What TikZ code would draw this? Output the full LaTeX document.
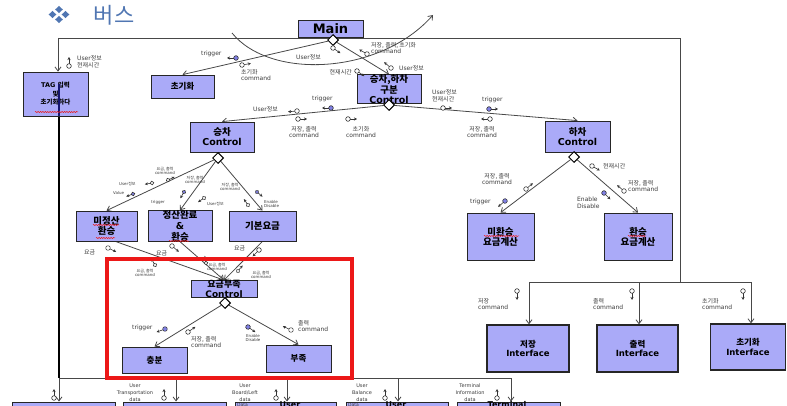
\documentclass[tikz,border=0pt]{standalone}
\usepackage{fontspec}
\setmainfont{DejaVu Sans}
\newfontfamily\hangul{Noto Sans CJK KR}
\usetikzlibrary{arrows.meta,shapes.geometric,calc,decorations.pathmorphing}
\pgfdeclarelayer{bg}
\pgfsetlayers{bg,main}

\definecolor{boxfill}{RGB}{170,170,248}
\definecolor{flagfill}{RGB}{128,128,228}
\definecolor{edgegray}{RGB}{72,72,72}
\definecolor{labelgray}{RGB}{60,60,60}
\definecolor{alertred}{RGB}{236,24,24}
\definecolor{titleblue}{RGB}{80,118,178}
\definecolor{navyline}{RGB}{20,20,110}

\tikzset{
  module/.style={draw=black!85, line width=0.8pt, fill=boxfill, align=center,
    inner sep=0pt, font=\bfseries\fontsize{9.5}{10}\selectfont},
  iface/.style={module, line width=1.3pt, font=\bfseries\fontsize{8.5}{9.5}\selectfont},
  decision/.style={diamond, draw=black, fill=white, line width=1pt,
    minimum width=11pt, minimum height=11pt, inner sep=0pt},
  conn/.style={draw=edgegray, line width=0.8pt},
  call/.style={conn, -{Straight Barb[length=4pt,width=6pt]}},
  flowline/.style={line width=0.6pt, draw=black!80, -{Stealth[length=3pt,width=3pt]}},
  lbl/.style={font=\fontsize{6}{6.8}\selectfont, text=labelgray, align=left, inner sep=0pt},
  tinylbl/.style={font=\fontsize{4}{4.6}\selectfont, text=labelgray, align=left, inner sep=0pt},
  datalbl/.style={font=\fontsize{5}{7}\selectfont, text=labelgray, align=center, inner sep=0pt},
  dflow/.pic={\draw[flowline] (0,0) -- (9,0);
    \draw[line width=0.6pt, draw=black!80, fill=white] (0,0) circle (2.3);},
  cflow/.pic={\draw[flowline] (0,0) -- (9,0);
    \draw[line width=0.6pt, draw=black!80, fill=flagfill] (0,0) circle (2.3);},
  squiggle/.style={draw=alertred, line width=0.5pt, decorate,
    decoration={snake, amplitude=0.6pt, segment length=2.4pt}},
  cut/.style={font=\bfseries\fontsize{8}{8}\selectfont, anchor=base, inner sep=0pt},
}

\begin{document}
\begin{tikzpicture}[x=1pt,y=-1pt]
\useasboundingbox (0,0) rectangle (787,406);
\clip (0,0) rectangle (787,406);

% heading
\foreach \dx/\dy in {0/-5, 0/5, -6.5/0, 6.5/0}
  \fill[titleblue] (59+\dx,14.5+\dy) ++(0,-3.6) -- ++(3.8,3.6) -- ++(-3.8,3.6) -- ++(-3.8,-3.6) -- cycle;
\node[font=\fontsize{22}{22}\selectfont, text=titleblue, inner sep=0pt] (title) at (114,15) {\hangul 버스};

% modules
\node[module, minimum width=65pt, minimum height=17pt, font=\bfseries\fontsize{13}{13}\selectfont] (main) at (330.5,28.5) {Main};
\node[module, minimum width=65pt, minimum height=44pt, font=\bfseries\fontsize{6.5}{8.5}\selectfont] (tag) at (55.5,94) {TAG {\hangul 입력}\\{\hangul 및}\\{\hangul 초기화하다}};
\node[module, minimum width=63pt, minimum height=23pt, font=\bfseries\fontsize{8.5}{9}\selectfont] (init) at (182.5,86.5) {\hangul 초기화};
\node[module, minimum width=64pt, minimum height=24pt, font=\bfseries\fontsize{9.5}{9.5}\selectfont] (split) at (389,89) {{\hangul 승차,하차}\\{\hangul 구분}\\Control};
\node[module, minimum width=64pt, minimum height=30pt] (board) at (222,137) {{\hangul 승차}\\Control};
\node[module, minimum width=65pt, minimum height=31pt] (alight) at (577.5,136.5) {{\hangul 하차}\\Control};
\node[module, minimum width=61pt, minimum height=30pt] (unpaid) at (106.5,226) {{\hangul 미정산}\\{\hangul 환승}};
\node[module, minimum width=64pt, minimum height=30pt, font=\bfseries\fontsize{9.5}{10.8}\selectfont] (paid) at (180,226) {{\hangul 정산완료}\\\&\\{\hangul 환승}};
\node[module, minimum width=67pt, minimum height=30pt] (base) at (262.5,226) {\hangul 기본요금};
\node[module, minimum width=66pt, minimum height=16pt, font=\bfseries\fontsize{9}{9.5}\selectfont] (short) at (224,289) {{\hangul 요금부족}\\Control};
\node[module, minimum width=65pt, minimum height=26pt, font=\bfseries\fontsize{8.5}{9}\selectfont] (enough) at (154.5,360) {\hangul 충분};
\node[module, minimum width=65pt, minimum height=27pt, font=\bfseries\fontsize{8.5}{9}\selectfont] (lack) at (298.5,358.5) {\hangul 부족};
\node[module, minimum width=67pt, minimum height=47pt] (notx) at (500.5,236.5) {{\hangul 미환승}\\{\hangul 요금계산}};
\node[module, minimum width=68pt, minimum height=47pt] (xfer) at (638,236.5) {{\hangul 환승}\\{\hangul 요금계산}};
\node[iface, minimum width=82pt, minimum height=47pt] (ifsave) at (528,348.5) {{\hangul 저장}\\Interface};
\node[iface, minimum width=81pt, minimum height=47pt] (ifprint) at (637.5,348.5) {{\hangul 출력}\\Interface};
\node[iface, minimum width=75pt, minimum height=46pt] (ifinit) at (748,347) {{\hangul 초기화}\\Interface};

% data modules along the lower edge
\node[module, line width=1pt, minimum width=103pt, minimum height=30pt] (usr1) at (63.5,417) {};
\node[module, line width=1pt, minimum width=103pt, minimum height=30pt] (usr2) at (174.5,417) {};
\node[module, line width=1pt, minimum width=101pt, minimum height=30pt] (usr3) at (285.5,417) {};
\node[module, line width=1pt, minimum width=102pt, minimum height=30pt] (usr4) at (397,417) {};
\node[module, line width=1pt, minimum width=103pt, minimum height=30pt] (usr5) at (508.5,417) {};
\node[cut] (usr3t) at (290,407) {User};
\node[cut] (usr4t) at (396,407) {User};
\node[cut] (usr5t) at (507,407.5) {Terminal};
\node[tinylbl, anchor=base west, font=\fontsize{4.5}{4.5}\selectfont] (usr3d) at (237,406) {Data};
\node[tinylbl, anchor=base west, font=\fontsize{4.5}{4.5}\selectfont] (usr4d) at (348,406) {Data};

% decision points
\node[decision] (dmain) at (333,40) {};
\node[decision] (dsplit) at (389,105) {};
\node[decision] (dboard) at (218,158) {};
\node[decision] (dalight) at (574,157) {};
\node[decision] (dshort) at (225,303) {};

% junction points of the bus lines
\coordinate (tl) at (58,38);
\coordinate (tr) at (680,38);
\coordinate (rt) at (680,282);
\coordinate (k1) at (529,282);
\coordinate (k2) at (639,282);
\coordinate (k3) at (751,282);
\coordinate (tagIn) at (59,84);
\coordinate (j1) at (59,378);
\coordinate (j2) at (176,378);
\coordinate (j3) at (287,378);
\coordinate (j4) at (398,378);
\coordinate (j5) at (511,378);
\coordinate (arcS) at (232,33);
\coordinate (arcE) at (433,15);

\begin{pgfonlayer}{bg}
  \draw[conn] (tl) -- (tr) -- (rt);
  \draw[call] (tl) -- (tl |- tag.north);
  \draw[conn] (k1) -- (k3);
  \draw[call] (k1) -- (k1 |- ifsave.north);
  \draw[call] (k2) -- (k2 |- ifprint.north);
  \draw[call] (k3) -- (k3 |- ifinit.north);
  \draw[conn, draw=black, line width=1.2pt] (tagIn |- tag.south) -- (j1);
  \draw[conn] (j1) -- (j5);
  \draw[call] (j1) -- (j1 |- usr1.north);
  \draw[call] (j2) -- (j2 |- usr2.north);
  \draw[call] (j3) -- (j3 |- usr3.north);
  \draw[call] (j4) -- (j4 |- usr4.north);
  \draw[call] (j5) -- (j5 |- usr5.north);
  \draw[call] (arcS) .. controls (270,80) and (380,75) .. (arcE);
  \draw[call] (dmain) -- (init.north);
  \draw[call] (dmain) -- (split.north);
  \draw[call] (dsplit) -- (board.north);
  \draw[call] (dsplit) -- (alight.north);
  \draw[call] (dboard) -- (unpaid.north);
  \draw[call] (dboard) -- (paid.north);
  \draw[call] (dboard) -- (base.north);
  \draw[call] (unpaid.300) -- (short.north);
  \draw[call] (paid.south) -- (short.north);
  \draw[call] (base.south) -- (short.north);
  \draw[call] (dshort) -- (enough.north);
  \draw[call] (dshort) -- (lack.north);
  \draw[call] (dalight) -- (notx.north);
  \draw[call] (dalight) -- (xfer.north);
\end{pgfonlayer}
\draw[navyline, line width=1.2pt] (tagIn) -- (tagIn |- tag.south);

% spelling marks under some words
\draw[squiggle] (35,112) -- (78,112);
\draw[squiggle] (93,225) -- (119,225);
\draw[squiggle] (96,238) -- (115,238);
\draw[squiggle] (169,241) -- (189,241);
\draw[squiggle] (484,236) -- (519,236);
\draw[squiggle] (628,236) -- (646,236);

% flows around Main
\node[lbl, anchor=west] (f01) at (77,62) {User{\hangul 정보}\\{\hangul 현재시간}};
\pic[rotate=90] at (69,66) {dflow};
\node[lbl, anchor=west] (f02) at (201,54) {trigger};
\pic[rotate=180] at (236,58) {cflow};
\pic[rotate=10] at (242,65) {dflow};
\node[lbl] (f03) at (256,75) {{\hangul 초기화}\\command};
\node[lbl, anchor=west] (f04) at (296,57) {User{\hangul 정보}};
\pic[rotate=-35] at (333,48) {dflow};
\node[lbl, anchor=west] (f05) at (371,48) {{\hangul 저장, 출력, 초기화}\\command};
\pic[rotate=150] at (367,54) {dflow};
\node[lbl, anchor=west] (f06) at (399,68) {User{\hangul 정보}};
\pic[rotate=140] at (391,68) {dflow};
\node[lbl, anchor=east] (f07) at (352,72) {\hangul 현재시간};
\pic[rotate=-35] at (357,71) {dflow};

% flows between the boarding/alighting split and its children
\node[lbl, anchor=west] (f08) at (312,99) {trigger};
\pic[rotate=180] at (331,108) {cflow};
\node[lbl, anchor=west] (f09) at (253,109) {User{\hangul 정보}};
\pic[rotate=185] at (297,111) {dflow};
\pic[rotate=0] at (298,119) {dflow};
\node[lbl, align=center] (f10) at (304,132) {{\hangul 저장, 출력}\\command};
\pic[rotate=0] at (348,119) {dflow};
\node[lbl, align=center] (f11) at (361,132) {{\hangul 초기화}\\command};
\node[lbl, anchor=west] (f12) at (432,96) {User{\hangul 정보}\\{\hangul 현재시간}};
\pic[rotate=0] at (443,108) {dflow};
\node[lbl, anchor=west] (f13) at (482,100) {trigger};
\pic[rotate=0] at (489,109) {cflow};
\pic[rotate=180] at (490,119) {dflow};
\node[lbl, align=center] (f14) at (482,132) {{\hangul 저장, 출력}\\command};

% flows below the boarding control
\node[tinylbl, align=center] (f15) at (165,171) {{\hangul 요금, 출력}\\command};
\pic[rotate=25,scale=0.8] at (168,180) {dflow};
\node[tinylbl, anchor=west] (f16) at (119,184) {User{\hangul 정보}};
\pic[rotate=190,scale=0.8] at (152,183) {dflow};
\node[tinylbl, anchor=west] (f17) at (113,193) {Value};
\pic[rotate=200,scale=0.8] at (133,194) {cflow};
\node[tinylbl, align=center] (f18) at (195,180) {{\hangul 저장, 출력}\\command};
\node[tinylbl, anchor=west] (f19) at (151,202) {trigger};
\pic[rotate=-120,scale=0.8] at (184,192) {cflow};
\pic[rotate=-145,scale=0.8] at (204,198) {dflow};
\node[tinylbl, anchor=west] (f20) at (207,204) {User{\hangul 정보}};
\node[tinylbl, align=center] (f21) at (230,187) {{\hangul 저장, 출력}\\command};
\pic[rotate=125,scale=0.8] at (248,205) {dflow};
\pic[rotate=-40,scale=0.8] at (257,192) {cflow};
\node[tinylbl, anchor=west] (f22) at (264,204) {Enable\\Disable};

% fare flows into the shortage control
\node[lbl, anchor=west] (f23) at (84,252) {\hangul 요금};
\pic[rotate=-25] at (108,248) {dflow};
\node[lbl, anchor=west] (f24) at (156,253) {\hangul 요금};
\pic[rotate=-40] at (172,246) {dflow};
\node[lbl, anchor=west] (f25) at (234,248) {\hangul 요금};
\pic[rotate=-135] at (259,250) {dflow};
\node[tinylbl, align=center] (f26) at (145,273) {{\hangul 요금, 출력}\\command};
\pic[rotate=120,scale=0.8] at (155,265) {dflow};
\node[tinylbl, align=center] (f27) at (217,267) {{\hangul 요금, 출력}\\command};
\pic[rotate=100,scale=0.8] at (206,263) {dflow};
\node[tinylbl, align=center] (f28) at (261,275) {{\hangul 요금, 출력}\\command};
\pic[rotate=50,scale=0.8] at (238,271) {dflow};

% flows below the shortage control
\node[lbl, anchor=west] (f29) at (132,328) {trigger};
\pic[rotate=200] at (165,329) {cflow};
\pic[rotate=35] at (188,332) {dflow};
\node[lbl, anchor=west] (f30) at (191,342) {{\hangul 저장, 출력}\\command};
\pic[rotate=-35] at (248,327) {cflow};
\node[tinylbl, align=center] (f31) at (253,338) {Enable\\Disable};
\pic[rotate=155] at (291,330) {dflow};
\node[lbl, anchor=west] (f32) at (298,326) {{\hangul 출력}\\command};

% flows below the alighting control
\node[lbl, align=center] (f33) at (497,179) {{\hangul 저장, 출력}\\command};
\pic[rotate=40] at (526,189) {dflow};
\node[lbl, anchor=west] (f34) at (470,202) {trigger};
\pic[rotate=-140] at (505,201) {cflow};
\pic[rotate=-30] at (592,166) {dflow};
\node[lbl, anchor=west] (f35) at (603,166) {\hangul 현재시간};
\pic[rotate=140] at (624,191) {dflow};
\node[lbl, anchor=west] (f36) at (628,186) {{\hangul 저장, 출력}\\command};
\pic[rotate=-45] at (604,193) {cflow};
\node[lbl, anchor=west] (f37) at (577,203) {Enable\\Disable};

% commands to the interfaces
\pic[rotate=-90] at (517,291) {dflow};
\node[lbl, anchor=west] (f38) at (478,304) {{\hangul 저장}\\command};
\pic[rotate=-90] at (632,291) {dflow};
\node[lbl, anchor=west] (f39) at (593,304) {{\hangul 출력}\\command};
\pic[rotate=-90] at (743,291) {dflow};
\node[lbl, anchor=west] (f40) at (702,304) {{\hangul 초기화}\\command};

% data stores on the lower bus
\pic[rotate=90] at (54,398) {dflow};
\pic[rotate=90] at (164,398) {dflow};
\node[datalbl] (f41) at (135,392.5) {User\\Transportation\\data};
\pic[rotate=90] at (276,398) {dflow};
\node[datalbl] (f42) at (245,392.5) {User\\Board/Left\\data};
\pic[rotate=90] at (385,398) {dflow};
\node[datalbl] (f43) at (362,392.5) {User\\Balance\\data};
\pic[rotate=90] at (497,398) {dflow};
\node[datalbl] (f44) at (470,392.5) {Terminal\\Information\\data};

% highlight frame
\node[draw=alertred, line width=3.5pt, minimum width=245pt, minimum height=119pt, inner sep=0pt] (focus) at (229.5,318.5) {};
\end{tikzpicture}
\end{document}
